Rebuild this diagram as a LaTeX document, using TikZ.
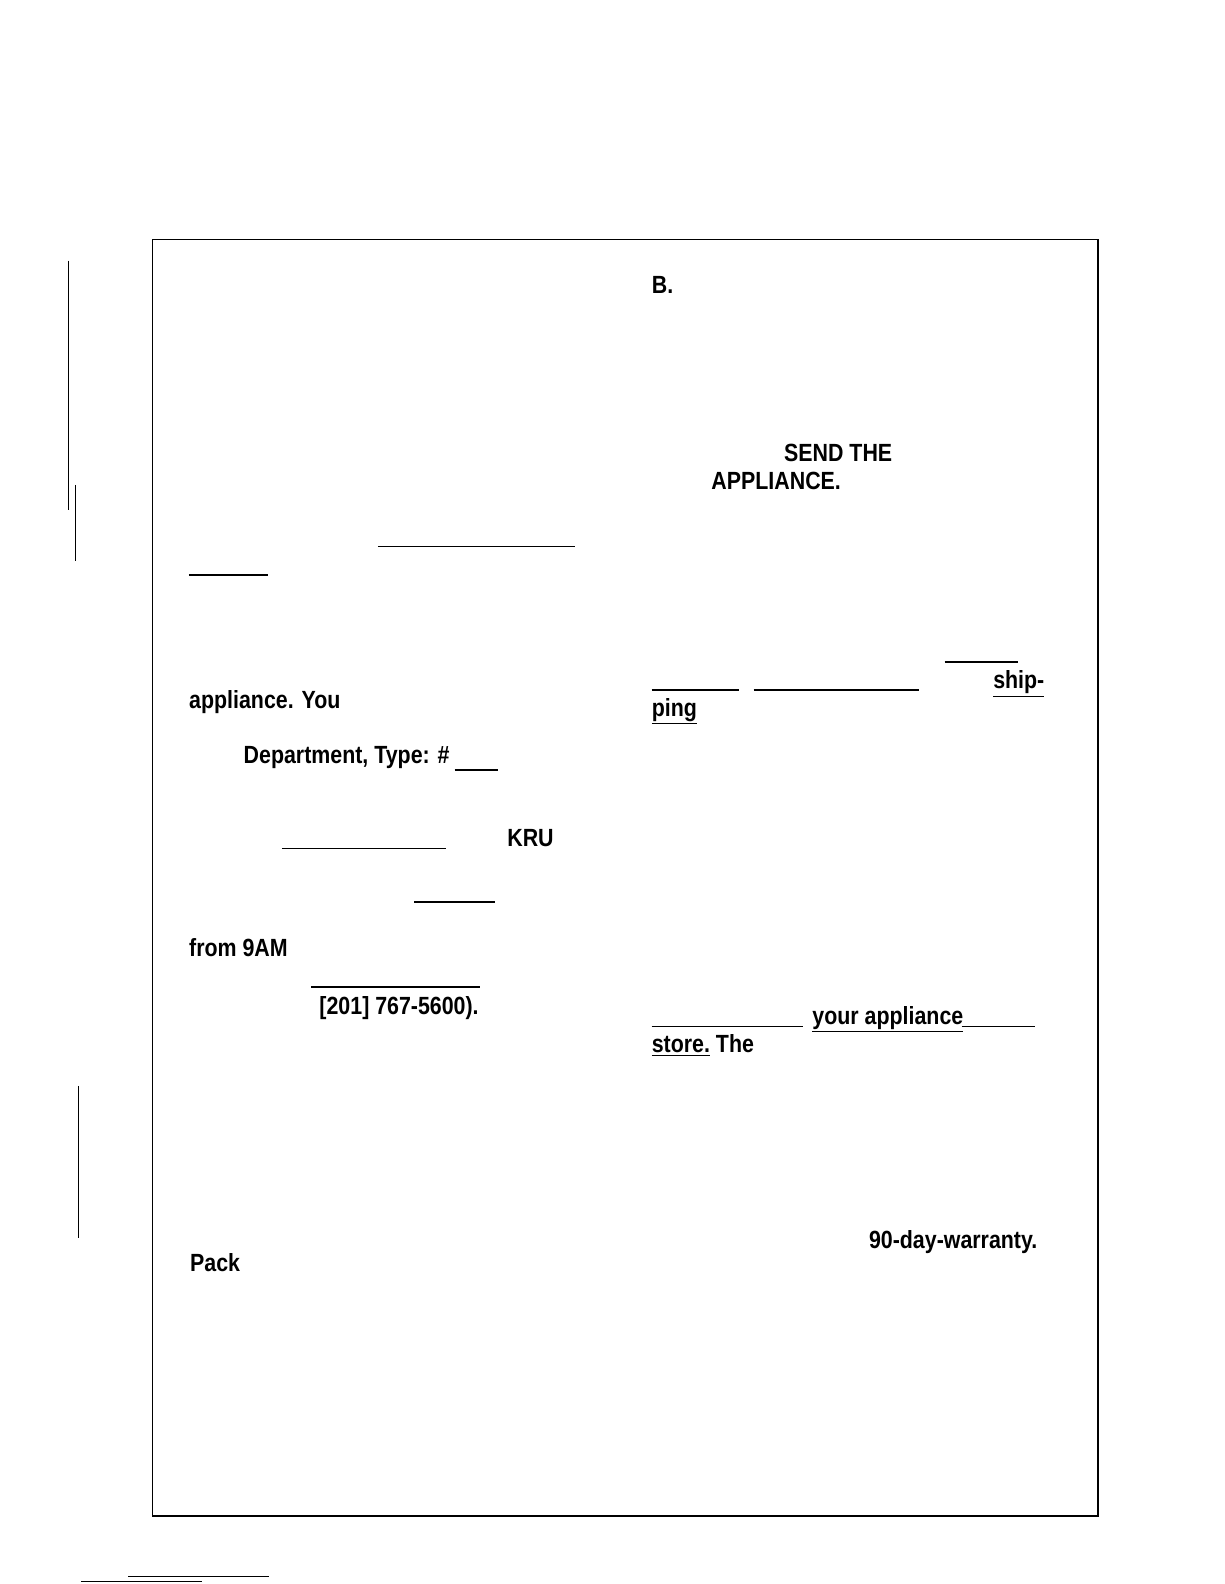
\documentclass[tikz,border=0pt]{standalone}
\usepackage{fontspec}
\setmainfont{Liberation Sans}
\usetikzlibrary{positioning}
\tikzset{
  word/.style={anchor=base west,inner sep=0pt,font=\bfseries\fontsize{17.5}{17.5}\selectfont,xscale=0.86},
  blank/.style={line width=1.2pt},
  margline/.style={line width=0.6pt}
}
\begin{document}
\begin{tikzpicture}[x=0.025cm,y=-0.025cm]
    % page and frame
    \useasboundingbox (0,0) rectangle (1212,1568);
    \draw[line width=1.3pt] (151,237) rectangle (1087,1501);

    % left column
    \node[word] (cap) at (187,701) {appliance. You};
    \node[word] (dep) at (241,756) {Department, Type: \#};
    \node[word] (kru) at (502,838) {KRU};
    \node[word] (from) at (187,947) {from 9AM};
    \node[word] (tel) at (316,1004) {[201] 767-5600).};
    \node[word] (pack) at (188,1259) {Pack};
    \draw[blank] (374,541) -- (569,541);
    \draw[blank] (187,569) -- (265,569);
    \draw[blank] (450,762) -- (493,762);
    \draw[blank] (279,840) -- (441,840);
    \draw[blank] (410,893) -- (490,893);
    \draw[blank] (308,977) -- (475,977);

    % right column
    \node[word] (b) at (645,291) {B.};
    \node[word] (send) at (776,457) {SEND THE};
    \node[word] (appl) at (704,485) {APPLIANCE.};
    \node[word] (ship) at (983,682) {\underline{ship-}};
    \node[word] (ping) at (645,709) {\underline{ping}};
    \node[word] (your) at (804,1014) {\underline{your appliance}};
    \node[word] (store) at (645,1042) {\underline{store.} The};
    \node[word] (warr) at (860,1236) {90-day-warranty.};
    \draw[blank] (935,655) -- (1008,655);
    \draw[blank] (645,683) -- (732,683);
    \draw[blank] (746,683) -- (910,683);
    \draw[blank] (645,1016) -- (795,1016);
    \draw[blank] (952,1016) -- (1025,1016);

    % margin marks
    \draw[margline] (68,258) -- (68,505);
    \draw[margline] (75,480) -- (75,555);
    \draw[margline] (78,1075) -- (78,1225);
    \draw[margline] (80,1565) -- (200,1565);
    \draw[margline] (127,1560) -- (266,1560);
\end{tikzpicture}
\end{document}
